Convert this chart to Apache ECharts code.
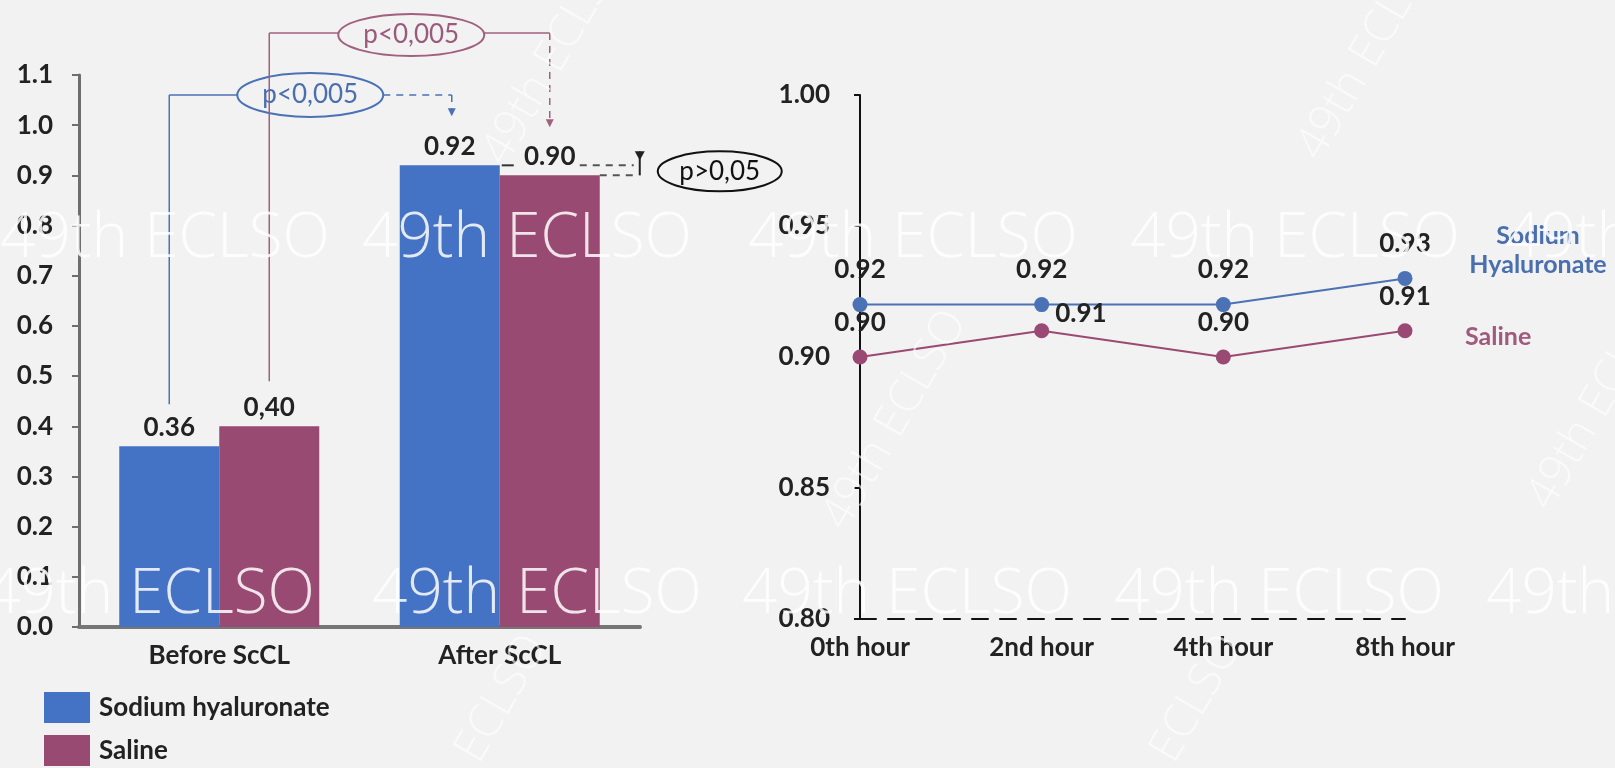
<!DOCTYPE html>
<html>
<head>
<meta charset="utf-8">
<script src="https://cdn.jsdelivr.net/npm/echarts@6/dist/echarts.min.js"></script>
<style>
html, body { margin: 0; padding: 0; background: #f2f2f2; }
#main { width: 1615px; height: 768px; }
</style>
</head>
<body>
<div id="main"></div>
<script>
// left chart: before / after scleral contact lens
var barCategories = ['Before ScCL', 'After ScCL'];
var barHyaluronate = [0.36, 0.92];
var barSaline = [0.40, 0.90];
var barHyaluronateLabels = ['0.36', '0.92'];
var barSalineLabels = ['0,40', '0.90'];

// right chart: hours
var hourCategories = ['0th hour', '2nd hour', '4th hour', '8th hour'];
var lineHyaluronate = [0.92, 0.92, 0.92, 0.93];
var lineSaline = [0.90, 0.91, 0.90, 0.91];

var pHyaluronate = 'p<0,005';
var pSaline = 'p<0,005';
var pGroups = 'p>0,05';
var watermark = '49th ECLSO';

var FONT = 'Lato, "Liberation Sans", sans-serif';
var BLUE = '#4472c4';
var PINK = '#984a72';
var LINE_BLUE = '#4a72b5';
var LINE_PINK = '#9a4a72';
var BAR_W = 100;

var myChart = echarts.init(document.getElementById('main'));

var bold = { fontSize: 26, fontWeight: 'bold', color: '#222', fontFamily: FONT };

var option = {
    backgroundColor: '#f2f2f2',
    animation: false,
    textStyle: { fontFamily: FONT },
    legend: {
        data: ['Sodium hyaluronate', 'Saline'],
        orient: 'vertical',
        left: 44,
        top: 692,
        height: 76,
        itemWidth: 46,
        itemHeight: 31,
        itemGap: 12,
        padding: 0,
        icon: 'rect',
        textStyle: { fontSize: 26, fontWeight: 'bold', color: '#222', fontFamily: FONT, padding: [0, 0, 0, 4] }
    },
    grid: [
        { left: 79, top: 75, width: 561, height: 552 },
        { left: 860, top: 95, width: 545, height: 524 }
    ],
    xAxis: [
        {
            type: 'category',
            gridIndex: 0,
            data: barCategories,
            axisLine: { lineStyle: { color: '#767676', width: 4 } },
            axisTick: { show: false },
            axisLabel: Object.assign({ margin: 16 }, bold)
        },
        {
            type: 'category',
            gridIndex: 1,
            data: hourCategories,
            boundaryGap: false,
            axisLine: { lineStyle: { color: '#111', width: 2, type: [16, 12] } },
            axisTick: { show: false },
            axisLabel: Object.assign({ margin: 16 }, bold)
        }
    ],
    yAxis: [
        {
            type: 'value',
            gridIndex: 0,
            min: 0,
            max: 1.1,
            interval: 0.1,
            axisLine: { show: true, lineStyle: { color: '#6e6e6e', width: 3 } },
            axisTick: { show: true, length: 7, lineStyle: { color: '#6e6e6e', width: 2 } },
            splitLine: { show: false },
            axisLabel: Object.assign({
                margin: 26,
                formatter: function (v) { return v.toFixed(1); }
            }, bold)
        },
        {
            type: 'value',
            gridIndex: 1,
            min: 0.8,
            max: 1.0,
            interval: 0.05,
            axisLine: { show: true, lineStyle: { color: '#111', width: 2 } },
            axisTick: { show: true, length: 6, lineStyle: { color: '#111', width: 2 } },
            splitLine: { show: false },
            axisLabel: Object.assign({
                margin: 30,
                formatter: function (v) { return v.toFixed(2); }
            }, bold)
        }
    ],
    series: [
        {
            name: 'Sodium hyaluronate',
            type: 'bar',
            xAxisIndex: 0,
            yAxisIndex: 0,
            barWidth: BAR_W,
            barGap: 0,
            itemStyle: { color: BLUE },
            label: Object.assign({
                show: true,
                position: 'top',
                distance: 6,
                formatter: function (p) { return barHyaluronateLabels[p.dataIndex]; }
            }, bold),
            data: barHyaluronate
        },
        {
            name: 'Saline',
            type: 'bar',
            xAxisIndex: 0,
            yAxisIndex: 0,
            barWidth: BAR_W,
            barGap: 0,
            itemStyle: { color: PINK },
            label: Object.assign({
                show: true,
                position: 'top',
                distance: 6,
                formatter: function (p) { return barSalineLabels[p.dataIndex]; }
            }, bold),
            data: barSaline
        },
        {
            name: 'Sodium Hyaluronate (hours)',
            type: 'line',
            xAxisIndex: 1,
            yAxisIndex: 1,
            symbol: 'circle',
            symbolSize: 15,
            lineStyle: { color: LINE_BLUE, width: 2 },
            itemStyle: { color: LINE_BLUE },
            label: Object.assign({
                show: true,
                position: 'top',
                distance: 14,
                formatter: function (p) { return p.value.toFixed(2); }
            }, bold),
            data: lineHyaluronate
        },
        {
            name: 'Saline (hours)',
            type: 'line',
            xAxisIndex: 1,
            yAxisIndex: 1,
            symbol: 'circle',
            symbolSize: 15,
            lineStyle: { color: LINE_PINK, width: 2 },
            itemStyle: { color: LINE_PINK },
            label: Object.assign({
                show: true,
                position: 'top',
                distance: 14,
                formatter: function (p) { return p.value.toFixed(2); }
            }, bold),
            data: lineSaline.map(function (v, i) {
                // 2nd hour label sits to the right of the point
                if (i === 1) {
                    return { value: v, label: { position: 'right', distance: 6, offset: [0, -17] } };
                }
                return v;
            })
        }
    ]
};
myChart.setOption(option);

// annotations placed from the axes
function bp(cat, val) {
    return myChart.convertToPixel({ gridIndex: 0 }, [cat, val]);
}
function lp(cat, val) {
    return myChart.convertToPixel({ gridIndex: 1 }, [cat, val]);
}

var g = [];
function seg(x1, y1, x2, y2, color, dashed, w) {
    g.push({
        type: 'line', z: 50,
        shape: { x1: x1, y1: y1, x2: x2, y2: y2 },
        style: { stroke: color, lineWidth: w || 1.5, lineDash: dashed ? [7, 6] : null }
    });
}
function arrowDown(x, y, color) {
    g.push({
        type: 'polygon', z: 50,
        shape: { points: [[x - 4, y - 8], [x + 4, y - 8], [x, y]] },
        style: { fill: color }
    });
}
function oval(cx, cy, rx, ry, color, text, textColor) {
    g.push({
        type: 'ellipse', z: 50,
        shape: { cx: cx, cy: cy, rx: rx, ry: ry },
        style: { fill: 'rgba(0,0,0,0)', stroke: color, lineWidth: 2 }
    });
    g.push({
        type: 'text', z: 51, x: cx, y: cy,
        style: { text: text, fill: textColor, font: '26px ' + FONT, align: 'center', verticalAlign: 'middle' }
    });
}

var half = BAR_W / 2;
var yTop = bp(0, 1.1)[1];

// blue bracket: before -> after (sodium hyaluronate)
var bx1 = bp(0, barHyaluronate[0])[0] - half;
var by1 = bp(0, barHyaluronate[0])[1] - 42;
var bx2 = bp(1, barHyaluronate[1])[0] - half + 2;
var by2 = bp(1, barHyaluronate[1])[1] - 49;
var byB = yTop + 20;
var bcx = bx1 + 141;
seg(bx1, by1, bx1, byB, LINE_BLUE);
seg(bx1, byB, bcx - 73, byB, LINE_BLUE);
seg(bcx + 73, byB, bx2, byB, LINE_BLUE, true);
seg(bx2, byB, bx2, by2 - 6, LINE_BLUE, true);
arrowDown(bx2, by2, LINE_BLUE);
oval(bcx, byB, 73, 22, LINE_BLUE, pHyaluronate, '#4a6fae');

// pink bracket: before -> after (saline)
var px1 = bp(0, barSaline[0])[0] + half;
var py1 = bp(0, barSaline[0])[1] - 45;
var px2 = bp(1, barSaline[1])[0] + half;
var py2 = bp(1, barSaline[1])[1] - 48;
var pyB = yTop - 42;
var pcx = px1 + 142;
seg(px1, py1, px1, pyB, '#a0607e');
seg(px1, pyB, pcx - 73, pyB, '#a0607e');
seg(pcx + 73, pyB, px2, pyB, '#a0607e');
seg(px2, pyB, px2, py2 - 6, '#a0607e', true);
arrowDown(px2, py2, '#a0607e');
oval(pcx, pyB + 2, 73, 21, '#a0607e', pSaline, '#9a5a7c');

// after groups comparison
var ac = bp(1, 0)[0];
var yA = bp(1, barHyaluronate[1])[1];
var yS = bp(1, barSaline[1])[1];
seg(ac + 2, yA, ac + 14, yA, '#333', false, 2);
seg(ac + 80, yA, ac + 134, yA, '#555', true, 2);
seg(ac + half * 2, yS, ac + 134, yS, '#555', true, 2);
seg(ac + 140, yA - 14, ac + 140, yS, '#222', false, 2);
g.push({
    type: 'polygon', z: 50,
    shape: { points: [[ac + 135, yA - 14], [ac + 145, yA - 14], [ac + 140, yA - 5]] },
    style: { fill: '#222' }
});
oval(ac + 220, (yA + yS) / 2 + 1, 62, 20, '#111', pGroups, '#111');

// series names at the end of the lines
var endB = lp(hourCategories.length - 1, lineHyaluronate[lineHyaluronate.length - 1]);
var endS = lp(hourCategories.length - 1, lineSaline[lineSaline.length - 1]);
g.push({
    type: 'text', z: 51, x: endB[0] + 133, y: endB[1] - 28,
    style: { text: 'Sodium\nHyaluronate', fill: '#4a6fae', font: 'bold 25px ' + FONT, align: 'center', verticalAlign: 'middle', lineHeight: 29 }
});
g.push({
    type: 'text', z: 51, x: endS[0] + 60, y: endS[1] + 6,
    style: { text: 'Saline', fill: '#a05a7d', font: 'bold 25px ' + FONT, align: 'left', verticalAlign: 'middle' }
});

// watermark
var WM_FONT = '300 62px "Open Sans", sans-serif';
var rowA = [0, 362, 748, 1130, 1505];
var rowB = [-15, 372, 742, 1114, 1486];
rowA.forEach(function (x) {
    g.push({ type: 'text', z: 100, x: x, y: 239,
        style: { text: watermark, fill: 'rgba(255,255,255,0.85)', font: WM_FONT, verticalAlign: 'middle' } });
});
rowB.forEach(function (x) {
    g.push({ type: 'text', z: 100, x: x, y: 595,
        style: { text: watermark, fill: 'rgba(255,255,255,0.85)', font: WM_FONT, verticalAlign: 'middle' } });
});
[[555, 55], [895, 420], [1370, 50], [1600, 400], [475, 745], [1170, 745]].forEach(function (p) {
    g.push({ type: 'text', z: 100, x: p[0], y: p[1], rotation: Math.PI / 3,
        style: { text: watermark, fill: 'rgba(255,255,255,0.6)', font: '300 46px "Open Sans", sans-serif', align: 'center', verticalAlign: 'middle' } });
});

myChart.setOption({ graphic: { elements: g } });

window.addEventListener('resize', function () {
    myChart.resize();
});
</script>
</body>
</html>
